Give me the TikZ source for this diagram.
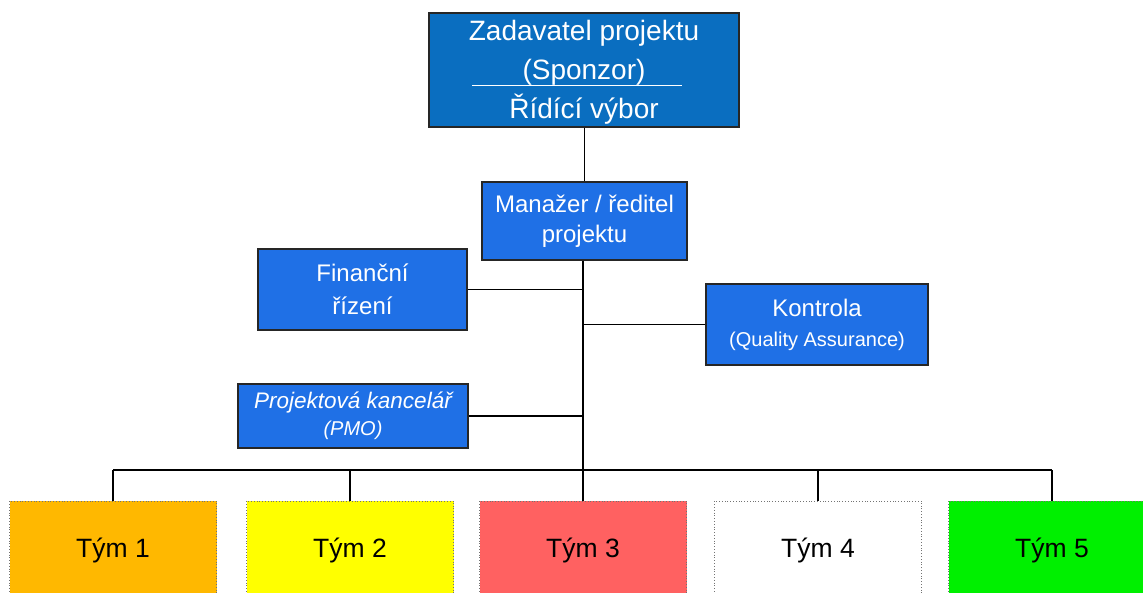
\documentclass[tikz,border=0pt]{standalone}
\usepackage{fontspec}
\setmainfont{Liberation Sans}
\usetikzlibrary{calc}
\definecolor{topblue}{HTML}{0A6EC0}
\definecolor{boxblue}{HTML}{1F70E6}
\definecolor{t1}{HTML}{FFB800}
\definecolor{t2}{HTML}{FFFF00}
\definecolor{t3}{HTML}{FF6161}
\definecolor{t4}{HTML}{FFFFFF}
\definecolor{t5}{HTML}{00F000}
\tikzset{
  bluebox/.style={draw=black!85, line width=1.2pt, fill=boxblue, text=white, align=center, inner sep=0pt},
  teambox/.style={draw=black!55, dotted, line width=0.8pt, minimum width=207pt, minimum height=98pt, inner sep=0pt, font=\fontsize{26.5}{30}\selectfont},
  link/.style={draw=black, line width=1.6pt}
}
\begin{document}
\begin{tikzpicture}[x=1pt,y=-1pt]
\useasboundingbox (0,0) rectangle (1143,592);
\clip (0,0) rectangle (1143,592);
\fill[white] (0,0) rectangle (1143,592);

\node[bluebox, fill=topblue, minimum width=310pt, minimum height=114pt] (top) at (584,70) {};
\node[text=white, align=center, font=\fontsize{28}{39}\selectfont, inner sep=0pt] (toptext) at ($(top.center)+(0,2)$) {Zadavatel projektu\\(Sponzor)\\Řídící výbor};
\draw[white, line width=1.3pt] ($(top.center)+(-112,15.5)$) coordinate (sepl) -- ($(top.center)+(98,15.5)$) coordinate (sepr);

\node[bluebox, minimum width=205pt, minimum height=78pt, font=\fontsize{24}{30}\selectfont] (mgr) at (584.5,221) {Manažer / ředitel\\projektu};
\node[bluebox, minimum width=209pt, minimum height=81pt, font=\fontsize{24}{33}\selectfont] (fin) at (362.5,289.5) {Finanční\\řízení};
\node[bluebox, minimum width=222pt, minimum height=81pt, font=\fontsize{24}{30}\selectfont] (kon) at (817,324.5) {Kontrola\\{\fontsize{20}{24}\selectfont (Quality Assurance)}};
\node[bluebox, minimum width=230pt, minimum height=64pt, font=\fontsize{22.5}{27}\selectfont\itshape] (pmo) at (353,416) {Projektová kancelář\\{\fontsize{20}{22}\selectfont (PMO)}};

\node[teambox, fill=t1] (tA) at (113,550) {Tým 1};
\node[teambox, fill=t2] (tB) at (350,550) {Tým 2};
\node[teambox, fill=t3] (tC) at (583,550) {Tým 3};
\node[teambox, fill=t4] (tD) at (818,550) {Tým 4};
\node[teambox, fill=t5] (tE) at (1052,550) {Tým 5};

\coordinate (bus) at (583,470);

\draw[link] (top.south -| mgr.north) -- (mgr.north);
\draw[link] (mgr.south -| bus) -- (bus);
\draw[link] (fin.east) -- (fin.east -| bus);
\draw[link] (kon.west) -- (kon.west -| bus);
\draw[link] (pmo.east) -- (pmo.east -| bus);
\draw[link] (tA.north |- bus) -- (tE.north |- bus);
\draw[link] (tA.north) -- (tA.north |- bus);
\draw[link] (tB.north) -- (tB.north |- bus);
\draw[link] (tC.north) -- (bus);
\draw[link] (tD.north) -- (tD.north |- bus);
\draw[link] (tE.north) -- (tE.north |- bus);
\end{tikzpicture}
\end{document}
